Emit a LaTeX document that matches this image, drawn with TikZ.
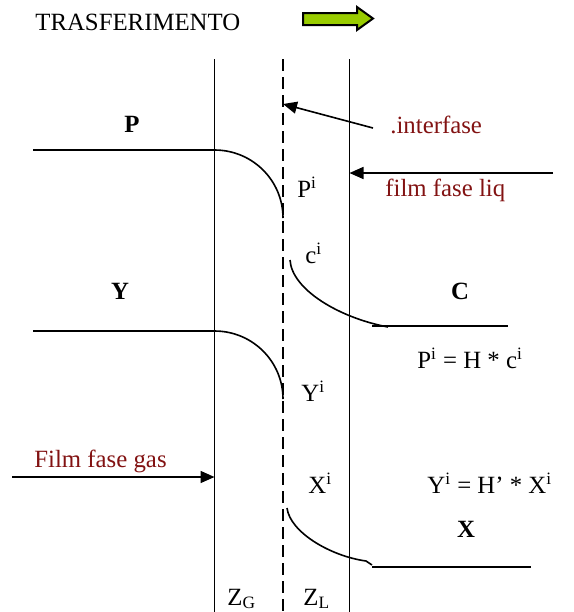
\documentclass[tikz,border=0pt]{standalone}
\usepackage{fontspec}
\setmainfont{Liberation Serif}
\usepackage{tikz}
\usetikzlibrary{arrows.meta, positioning}
\definecolor{filmred}{RGB}{130,18,18}
\definecolor{arrowgreen}{RGB}{153,204,0}

\begin{document}
\begin{tikzpicture}[x=0.5pt, y=-0.5pt,
        % Plain labels: serif text, placed by their baseline
        lbl/.style={inner sep=0pt, anchor=base west,
            font=\fontsize{12.4}{14}\selectfont},
        % Bulk concentrations: bold letters, centred on the baseline
        bulk/.style={inner sep=0pt, anchor=base,
            font=\fontsize{12.4}{14}\selectfont\bfseries},
        % Film names in dark red
        film/.style={lbl, text=filmred},
        % Film boundaries and concentration profiles
        wall/.style={line width=0.9pt},
        profile/.style={line width=0.8pt},
        pointer/.style={line width=0.8pt, -{Triangle[length=7pt, width=6pt]}},
        ]

        \useasboundingbox (0,0) rectangle (574,612);

        % Column x-coordinates (gas film edge, interface, liquid film edge)
        \def\colG{214.5}
        \def\colI{283}
        \def\colL{349.5}
        % Row y-coordinates of the bulk levels
        \def\rowP{150}
        \def\rowY{331}

        % === Title and direction of transfer ===
        \node[lbl] (title) at (35,30) {TRASFERIMENTO};
        \draw[line width=1pt, fill=arrowgreen] (303,13) -- (357,13) -- (357,7)
            -- (373,18.5) -- (357,30) -- (357,25) -- (303,25) -- cycle;

        % === Films ===
        \draw[wall] (\colG,59) -- (\colG,612);
        \draw[wall, dash pattern=on 6pt off 3pt] (\colI,59) -- (\colI,612);
        \draw[wall] (\colL,59) -- (\colL,612);

        % === Film labels and pointers ===
        \node[film] (intf) at (390,133) {.interfase};
        \node[film] (liq) at (385,196) {film fase liq};
        \node[film] (gas) at (34,467) {Film fase gas};
        \coordinate (intfA) at (373,128);
        \coordinate (intfB) at (\colI,104);
        \coordinate (liqA) at (553,173);
        \coordinate (liqB) at (\colL,173);
        \coordinate (gasA) at (12,477);
        \coordinate (gasB) at (\colG,477);
        \draw[pointer] (intfA) -- (intfB);
        \draw[pointer] (liqA) -- (liqB);
        \draw[pointer] (gasA) -- (gasB);

        % === Gas side: P and Y profiles ===
        \node[bulk] (P) at (132,132) {P};
        \node[bulk] (Y) at (120,299) {Y};
        \draw[profile] (33,\rowP) -- (\colG,\rowP)
            .. controls (252.5,\rowP) and (\colI,180.5) .. (\colI,218);
        \draw[profile] (33,\rowY) -- (\colG,\rowY)
            .. controls (252.5,\rowY) and (\colI,361.5) .. (\colI,399);
        \node[lbl] (Pi) at (297,197) {P\textsuperscript{i}};
        \node[lbl] (Yi) at (301,401) {Y\textsuperscript{i}};

        % === Liquid side: c and X profiles ===
        \node[lbl] (ci) at (305,263) {c\textsuperscript{i}};
        \node[bulk] (C) at (460,299) {C};
        \draw[profile] (290,260) .. controls (292,290) and (340,318) .. (388,327);
        \draw[profile] (372,326) -- (508,326);
        \node[lbl] (Xi) at (308,493) {X\textsuperscript{i}};
        \node[bulk] (X) at (466,537) {X};
        \draw[profile] (287,508) .. controls (290,532) and (330,556) .. (366,561)
            -- (372,565);
        \draw[profile] (372,567) -- (531,567);

        % === Equilibrium relations ===
        \node[lbl] (eqP) at (417,368) {P\textsuperscript{i} = H * c\textsuperscript{i}};
        \node[lbl] (eqY) at (427,493) {Y\textsuperscript{i} = H’ * X\textsuperscript{i}};

        % === Film thicknesses ===
        \node[lbl] (zG) at (227,605) {Z\textsubscript{G}};
        \node[lbl] (zL) at (303,605) {Z\textsubscript{L}};

    \end{tikzpicture}
\end{document}
